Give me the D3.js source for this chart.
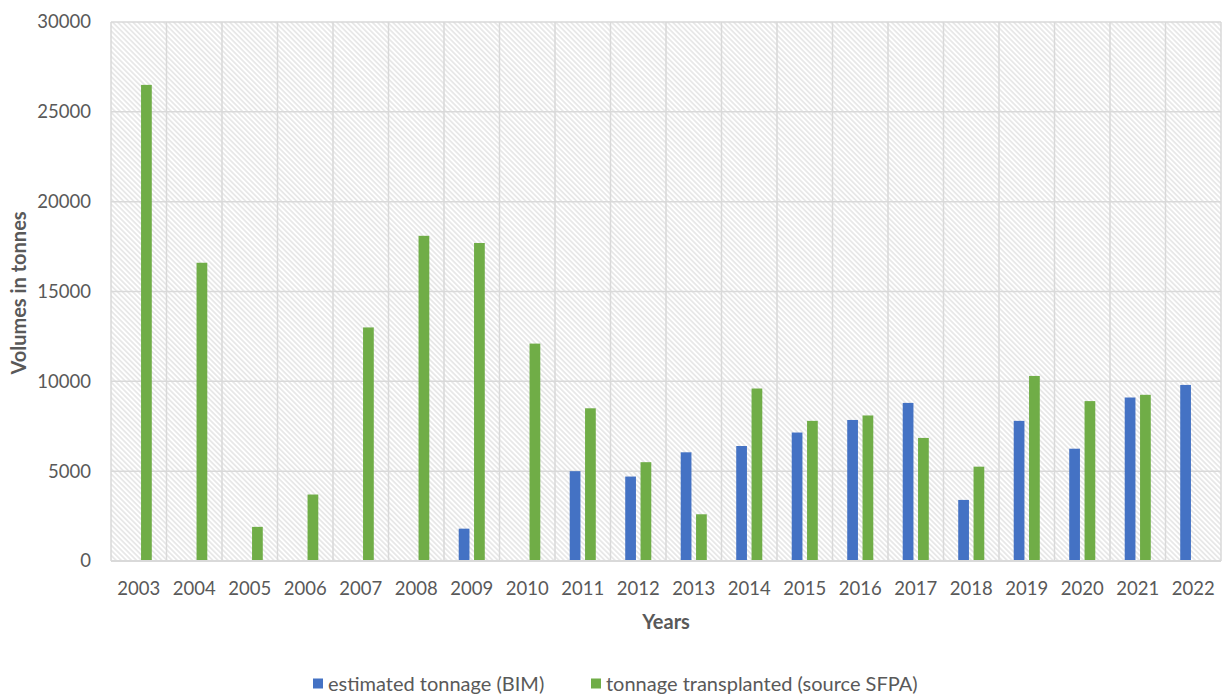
<!DOCTYPE html>
<html>
<head>
<meta charset="utf-8">
<script src="https://cdn.jsdelivr.net/npm/d3@7/dist/d3.min.js"></script>
<style>
  html, body { margin: 0; padding: 0; background: #fff; }
  svg { display: block; font-family: Lato, "Open Sans", sans-serif; }
</style>
</head>
<body>
<svg id="chart" width="1225" height="695"></svg>
<script>
// Years on the category axis
const years = ["2003","2004","2005","2006","2007","2008","2009","2010","2011","2012",
               "2013","2014","2015","2016","2017","2018","2019","2020","2021","2022"];
// Estimated tonnage (BIM); null where no estimate exists
const bimTonnage = [null,null,null,null,null,null,1800,null,5000,4700,
                    6050,6400,7150,7850,8800,3400,7800,6250,9100,9800];
// Tonnage transplanted (source SFPA); null where no record exists
const sfpaTonnage = [26500,16600,1900,3700,13000,18100,17700,12100,8500,5500,
                     2600,9600,7800,8100,6850,5250,10300,8900,9250,null];
const yTicks = [0,5000,10000,15000,20000,25000,30000];
const seriesNames = ["estimated tonnage (BIM)", "tonnage transplanted (source SFPA)"];
const seriesColors = ["#4472C4", "#70AD47"];

const svg = d3.select("#chart");
const plot = { left: 111, right: 1221, top: 22, bottom: 561 };

// Diagonal hatch fill for the plot background
const defs = svg.append("defs");
const pat = defs.append("pattern")
  .attr("id", "hatch")
  .attr("patternUnits", "userSpaceOnUse")
  .attr("width", 3.6).attr("height", 3.6)
  .attr("patternTransform", "rotate(45)");
pat.append("rect").attr("width", 3.6).attr("height", 3.6).attr("fill", "#ffffff");
pat.append("line").attr("x1", 0).attr("y1", 0.9).attr("x2", 3.6).attr("y2", 0.9)
  .attr("stroke", "#e2e2e2").attr("stroke-width", 1.4);

const x = d3.scaleBand().domain(years).range([plot.left, plot.right]).padding(0);
const y = d3.scaleLinear().domain([0, 30000]).range([plot.bottom, plot.top]);
const xSub = d3.scaleBand().domain([0, 1]).range([0, x.bandwidth()])
  .paddingInner(0.3).paddingOuter(0.96);

svg.append("rect")
  .attr("x", plot.left).attr("y", plot.top)
  .attr("width", plot.right - plot.left).attr("height", plot.bottom - plot.top)
  .attr("fill", "url(#hatch)");

const gridColor = "#d9d9d9";
// Horizontal gridlines
svg.append("g").selectAll("line").data(yTicks).join("line")
  .attr("x1", plot.left).attr("x2", plot.right)
  .attr("y1", d => y(d)).attr("y2", d => y(d))
  .attr("stroke", gridColor).attr("stroke-width", 1.5);
// Vertical gridlines at category boundaries
const bounds = years.map(d => x(d)).concat([plot.right]);
svg.append("g").selectAll("line").data(bounds).join("line")
  .attr("x1", d => d).attr("x2", d => d)
  .attr("y1", plot.top).attr("y2", plot.bottom)
  .attr("stroke", gridColor).attr("stroke-width", 1.5);

// Bars
const seriesData = [bimTonnage, sfpaTonnage];
seriesData.forEach((vals, si) => {
  svg.append("g").selectAll("rect")
    .data(years.map((yr, i) => ({ yr, v: vals[i] })).filter(d => d.v != null))
    .join("rect")
    .attr("x", d => x(d.yr) + xSub(si))
    .attr("width", xSub.bandwidth())
    .attr("y", d => y(d.v))
    .attr("height", d => y(0) - y(d.v))
    .attr("fill", seriesColors[si]);
});

// Axis line at zero
svg.append("line")
  .attr("x1", plot.left).attr("x2", plot.right)
  .attr("y1", y(0)).attr("y2", y(0))
  .attr("stroke", "#d9d9d9").attr("stroke-width", 2);

const tickColor = "#595959";
// Y tick labels
svg.append("g").selectAll("text").data(yTicks).join("text")
  .attr("x", 91).attr("y", d => y(d))
  .attr("dy", "0.35em")
  .attr("text-anchor", "end")
  .attr("font-size", 18.5)
  .attr("fill", tickColor)
  .text(d => d);

// X tick labels
svg.append("g").selectAll("text").data(years).join("text")
  .attr("x", d => x(d) + x.bandwidth() / 2).attr("y", 589)
  .attr("dy", "0.35em")
  .attr("text-anchor", "middle")
  .attr("font-size", 18.5)
  .attr("fill", tickColor)
  .text(d => d);

// Axis titles
svg.append("text")
  .attr("x", 666).attr("y", 622).attr("dy", "0.35em")
  .attr("text-anchor", "middle")
  .attr("font-size", 20).attr("font-weight", "bold")
  .attr("fill", tickColor)
  .text("Years");
svg.append("text")
  .attr("transform", "translate(19,293) rotate(-90)")
  .attr("dy", "0.35em")
  .attr("text-anchor", "middle")
  .attr("font-size", 20).attr("font-weight", "bold")
  .attr("fill", tickColor)
  .text("Volumes in tonnes");

// Legend
const legendX = [313, 591];
const lg = svg.append("g");
seriesNames.forEach((name, i) => {
  lg.append("rect")
    .attr("x", legendX[i]).attr("y", 678.5)
    .attr("width", 10).attr("height", 10)
    .attr("fill", seriesColors[i]);
  lg.append("text")
    .attr("x", legendX[i] + 15).attr("y", 684).attr("dy", "0.35em")
    .attr("font-size", 20)
    .attr("fill", tickColor)
    .text(name);
});
</script>
</body>
</html>
